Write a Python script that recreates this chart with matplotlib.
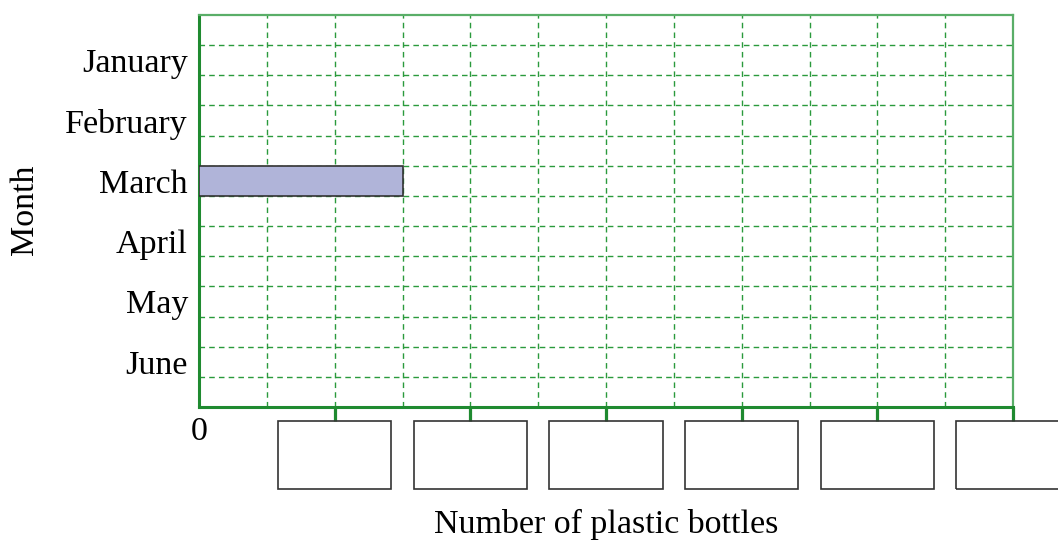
import matplotlib.pyplot as plt
from matplotlib.patches import Rectangle
from matplotlib.transforms import blended_transform_factory

plt.rcParams['font.family'] = ['Liberation Serif', 'DejaVu Serif']

months = ['January', 'February', 'March', 'April', 'May', 'June']
bottles = [0, 0, 3, 0, 0, 0]          # in grid columns
box_ticks = [2, 4, 6, 8, 10, 12]      # blank answer boxes under these ticks

green = '#2a9a3c'
dark_green = '#1f8a30'
fs = 24.5

fig = plt.figure(figsize=(10.58, 5.42), dpi=100)
ax = fig.add_axes([0.1881, 0.2491, 0.7694, 0.7232])

ax.set_xlim(0, 12)
ax.set_ylim(13, 0)

# month rows sit on every other grid row
ypos = [1.5 + 2 * i for i in range(len(months))]
for y, v in zip(ypos, bottles):
    if v > 0:
        ax.barh(y, v, height=1, color='#b0b4d9', edgecolor='#333333',
                linewidth=1.2, zorder=3)

ax.set_yticks(ypos)
ax.set_yticklabels(months, fontsize=fs)
ax.tick_params(axis='y', length=0, pad=8)

ax.set_xticks(box_ticks)
ax.set_xticklabels([])
ax.tick_params(axis='x', length=10, width=2.3, color=dark_green, direction='out')

ax.set_xticks(range(1, 12), minor=True)
ax.set_yticks(range(1, 13), minor=True)
ax.tick_params(which='minor', length=0)
ax.grid(which='both', axis='x', color=green, linestyle=(0, (4, 3)), linewidth=1)
ax.grid(which='minor', axis='y', color=green, linestyle=(0, (4, 3)), linewidth=1)
ax.set_axisbelow(True)

for side in ['left', 'bottom']:
    ax.spines[side].set_color(dark_green)
    ax.spines[side].set_linewidth(2.2)
for side in ['top', 'right']:
    ax.spines[side].set_color('#5aae68')
    ax.spines[side].set_linewidth(1.6)

# blank boxes for the scale values
trans = blended_transform_factory(ax.transData, ax.transAxes)
bw = 1.667
for t in box_ticks:
    ax.add_patch(Rectangle((t - bw / 2, -0.209), bw, 0.173, transform=trans,
                           fill=False, edgecolor='#333333', linewidth=1.2,
                           clip_on=False))

ax.text(0, -0.025, '0', transform=trans, ha='center', va='top', fontsize=fs)

fig.text(606 / 1058, 1 - 524 / 542, 'Number of plastic bottles', fontsize=fs,
         ha='center', va='center')
fig.text(25 / 1058, 1 - 210 / 542, 'Month', fontsize=fs, rotation=90,
         ha='center', va='center')

plt.savefig('out.png', dpi=100)
plt.close()
